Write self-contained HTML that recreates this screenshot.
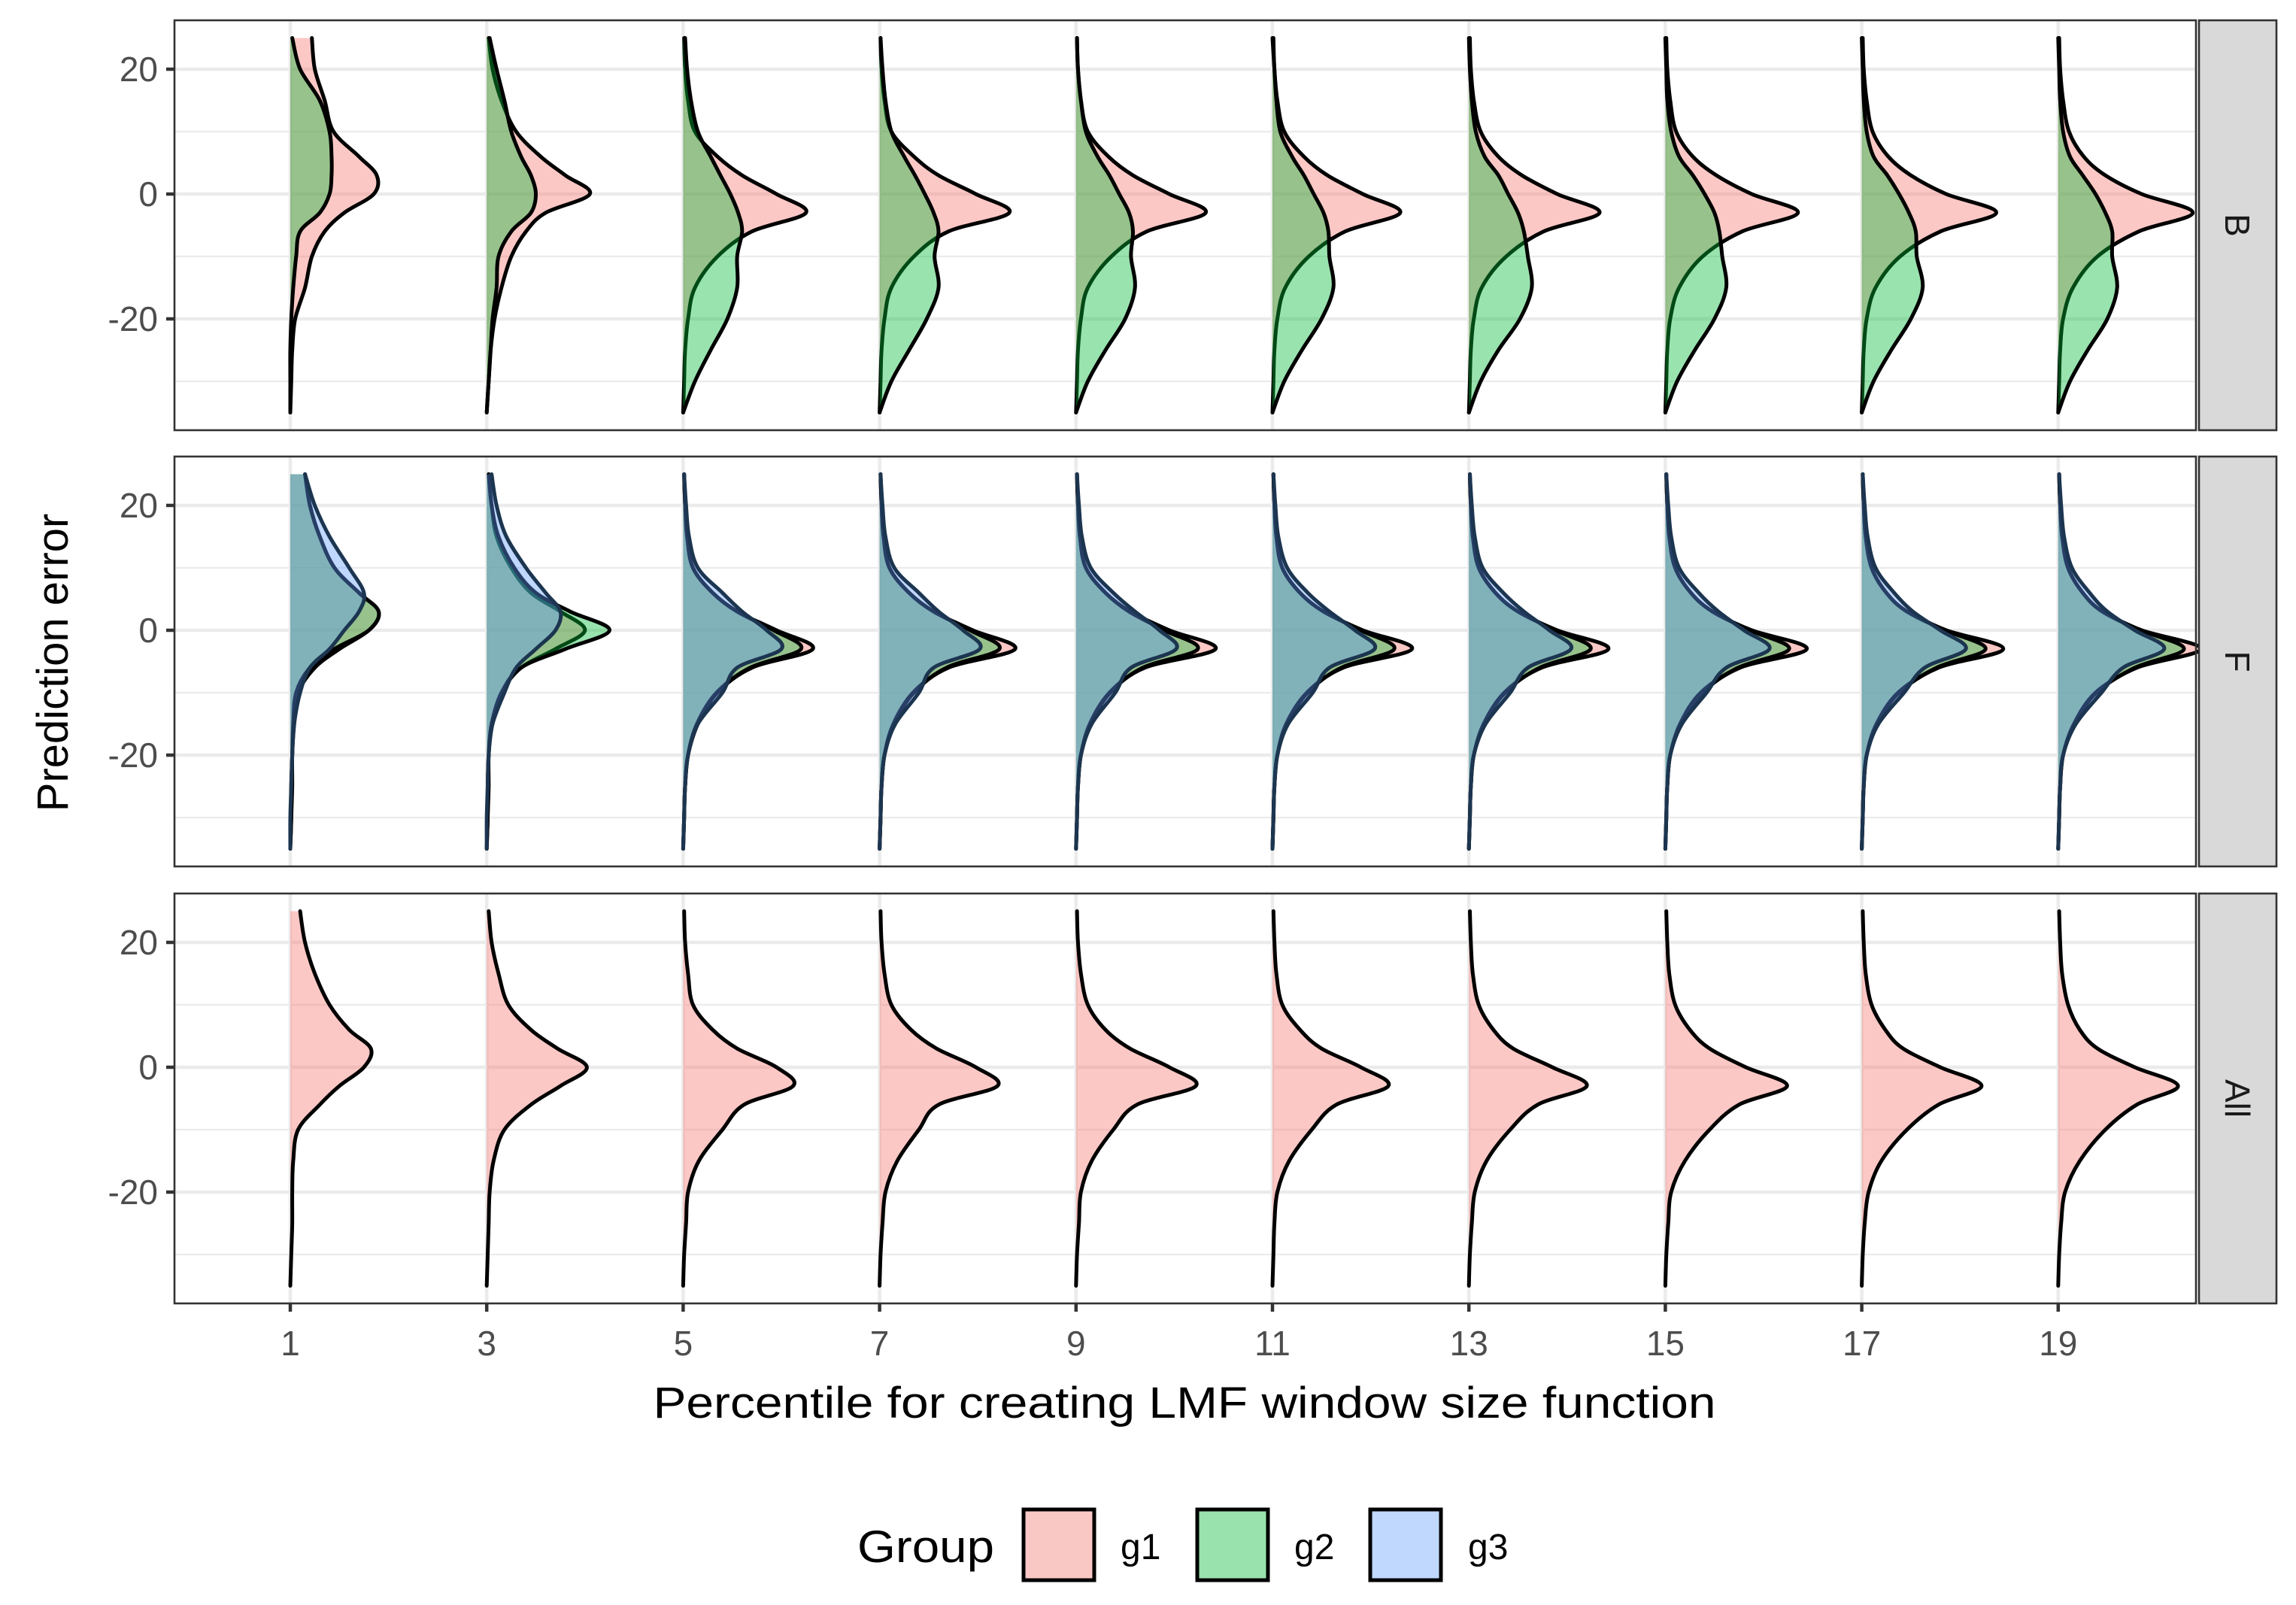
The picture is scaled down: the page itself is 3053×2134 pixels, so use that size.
<!DOCTYPE html>
<html><head><meta charset="utf-8"><style>
html,body{margin:0;padding:0;background:#fff;}
svg{display:block;}
text{font-family:"Liberation Sans",Arial,sans-serif;}
</style></head><body>
<svg id="chart" width="3053" height="2134" viewBox="0 0 3053 2134" xmlns="http://www.w3.org/2000/svg">
<g id="grid"></g>
<g id="marks"></g>
<g id="frames"></g>
<text x="90" y="881" font-size="58" fill="#000" text-anchor="middle" transform="rotate(-90 90 881)">Prediction error</text>
<text x="1575" y="1885" font-size="58" fill="#000" text-anchor="middle" textLength="1413" lengthAdjust="spacingAndGlyphs">Percentile for creating LMF window size function</text>
<g>
<text x="1140" y="2077" font-size="60" fill="#000" textLength="182" lengthAdjust="spacingAndGlyphs">Group</text>
<rect x="1361" y="2007" width="94" height="94" fill="#f9c8c4" stroke="#000" stroke-width="5"/>
<text x="1490" y="2073" font-size="48" fill="#000">g1</text>
<rect x="1592" y="2007" width="94" height="94" fill="#99e2ad" stroke="#000" stroke-width="5"/>
<text x="1721" y="2073" font-size="48" fill="#000">g2</text>
<rect x="1822" y="2007" width="94" height="94" fill="#c0d7fe" stroke="#000" stroke-width="5"/>
<text x="1952" y="2073" font-size="48" fill="#000">g3</text>
</g>
</svg>
<script>
const percentiles = [1,3,5,7,9,11,13,15,17,19];
const yLevels = [25,20,15,10,6,3,0,-3,-6,-10,-15,-20,-25,-30,-35];
const yTicks = [-20,0,20];
const yTickLabels = ["-20","0","20"];
const yMinor = [-30,-10,10];
const panelNames = ["B","F","All"];

const B_g1 = [
 [0.22,0.25,0.35,0.44,0.7,0.88,0.85,0.55,0.35,0.22,0.15,0.05,0.02,0.01,0],
 [0.02,0.06,0.15,0.3,0.55,0.8,1.05,0.6,0.4,0.25,0.15,0.08,0.04,0.02,0],
 [0.01,0.02,0.05,0.12,0.35,0.6,0.95,1.25,0.7,0.35,0.12,0.05,0.02,0.01,0],
 [0.01,0.02,0.05,0.12,0.35,0.6,0.98,1.32,0.7,0.35,0.12,0.05,0.02,0.01,0],
 [0.01,0.02,0.05,0.12,0.33,0.58,0.95,1.32,0.72,0.36,0.12,0.05,0.02,0.01,0],
 [0.01,0.02,0.05,0.12,0.32,0.56,0.92,1.3,0.74,0.37,0.13,0.05,0.02,0.01,0],
 [0.01,0.02,0.05,0.12,0.3,0.54,0.9,1.33,0.76,0.38,0.13,0.05,0.02,0.01,0],
 [0.01,0.02,0.05,0.11,0.28,0.52,0.88,1.35,0.78,0.38,0.14,0.05,0.02,0.01,0],
 [0.01,0.02,0.05,0.11,0.27,0.5,0.86,1.37,0.8,0.39,0.14,0.05,0.02,0.01,0],
 [0.01,0.02,0.05,0.11,0.26,0.48,0.85,1.37,0.82,0.4,0.15,0.05,0.02,0.01,0]
];
const B_g2 = [
 [0.02,0.1,0.3,0.4,0.42,0.42,0.4,0.3,0.1,0.06,0.03,0.01,0,0,0],
 [0.03,0.1,0.18,0.25,0.35,0.45,0.5,0.45,0.25,0.12,0.1,0.06,0.04,0.02,0],
 [0.02,0.04,0.08,0.15,0.28,0.38,0.48,0.56,0.6,0.55,0.55,0.45,0.28,0.12,0],
 [0.01,0.03,0.06,0.12,0.25,0.36,0.46,0.55,0.6,0.56,0.6,0.48,0.3,0.12,0],
 [0.01,0.02,0.05,0.1,0.22,0.34,0.44,0.54,0.58,0.56,0.6,0.5,0.3,0.12,0],
 [0,0.02,0.04,0.08,0.2,0.32,0.42,0.52,0.57,0.58,0.62,0.5,0.3,0.12,0],
 [0,0.01,0.03,0.07,0.16,0.3,0.4,0.5,0.56,0.6,0.64,0.52,0.3,0.12,0],
 [0,0.01,0.02,0.06,0.14,0.28,0.4,0.5,0.55,0.58,0.62,0.5,0.3,0.12,0],
 [0,0.01,0.02,0.05,0.12,0.26,0.38,0.48,0.55,0.56,0.62,0.5,0.3,0.12,0],
 [0,0.01,0.02,0.05,0.12,0.25,0.38,0.48,0.55,0.55,0.6,0.5,0.3,0.12,0]
];
const F_g1 = [
 [0.15,0.2,0.3,0.45,0.7,0.9,0.8,0.5,0.25,0.08,0.04,0.02,0.02,0.01,0],
 [0.02,0.05,0.1,0.25,0.45,0.75,1.0,0.7,0.35,0.15,0.05,0.02,0.02,0.01,0],
 [0.01,0.02,0.04,0.1,0.3,0.55,0.95,1.32,0.7,0.35,0.15,0.05,0.02,0.01,0],
 [0.01,0.02,0.04,0.1,0.3,0.55,0.95,1.38,0.7,0.35,0.15,0.05,0.02,0.01,0],
 [0.01,0.02,0.04,0.1,0.3,0.55,0.95,1.42,0.7,0.35,0.15,0.05,0.02,0.01,0],
 [0.01,0.02,0.04,0.1,0.28,0.52,0.92,1.42,0.72,0.36,0.15,0.05,0.02,0.01,0],
 [0.01,0.02,0.04,0.1,0.27,0.5,0.9,1.42,0.74,0.37,0.16,0.05,0.02,0.01,0],
 [0.01,0.02,0.04,0.1,0.26,0.48,0.88,1.44,0.76,0.38,0.16,0.05,0.02,0.01,0],
 [0.01,0.02,0.04,0.1,0.25,0.46,0.86,1.44,0.78,0.38,0.16,0.05,0.02,0.01,0],
 [0.01,0.02,0.04,0.1,0.25,0.45,0.85,1.45,0.8,0.39,0.17,0.05,0.02,0.01,0]
];
const F_g2 = [
 [0.15,0.2,0.3,0.45,0.7,0.9,0.8,0.45,0.2,0.06,0.03,0.02,0.01,0.01,0],
 [0.02,0.05,0.12,0.28,0.5,0.85,1.25,0.8,0.35,0.15,0.05,0.02,0.01,0.01,0],
 [0.01,0.02,0.04,0.1,0.3,0.55,0.92,1.2,0.68,0.34,0.14,0.05,0.02,0.01,0],
 [0.01,0.02,0.04,0.1,0.3,0.55,0.92,1.22,0.68,0.34,0.14,0.05,0.02,0.01,0],
 [0.01,0.02,0.04,0.1,0.3,0.54,0.9,1.24,0.68,0.34,0.14,0.05,0.02,0.01,0],
 [0.01,0.02,0.04,0.1,0.28,0.52,0.9,1.24,0.7,0.35,0.14,0.05,0.02,0.01,0],
 [0.01,0.02,0.04,0.1,0.27,0.5,0.88,1.24,0.72,0.36,0.15,0.05,0.02,0.01,0],
 [0.01,0.02,0.04,0.1,0.26,0.48,0.86,1.26,0.74,0.36,0.15,0.05,0.02,0.01,0],
 [0.01,0.02,0.04,0.1,0.25,0.46,0.85,1.26,0.76,0.37,0.15,0.05,0.02,0.01,0],
 [0.01,0.02,0.04,0.1,0.25,0.45,0.84,1.28,0.78,0.38,0.16,0.05,0.02,0.01,0]
];
const F_g3 = [
 [0.15,0.25,0.4,0.6,0.75,0.7,0.55,0.4,0.2,0.1,0.04,0.02,0.01,0,0],
 [0.05,0.1,0.2,0.4,0.6,0.75,0.7,0.5,0.3,0.18,0.06,0.02,0.01,0,0],
 [0.01,0.03,0.06,0.15,0.4,0.6,0.85,1.0,0.55,0.4,0.15,0.05,0.02,0.01,0],
 [0.01,0.03,0.06,0.15,0.4,0.6,0.85,1.02,0.55,0.4,0.16,0.05,0.02,0.01,0],
 [0.01,0.03,0.06,0.15,0.38,0.6,0.85,1.02,0.56,0.4,0.16,0.05,0.02,0.01,0],
 [0.01,0.03,0.06,0.15,0.36,0.58,0.84,1.04,0.58,0.41,0.16,0.05,0.02,0.01,0],
 [0.01,0.03,0.06,0.14,0.35,0.56,0.82,1.04,0.6,0.42,0.17,0.05,0.02,0.01,0],
 [0.01,0.03,0.06,0.14,0.34,0.54,0.8,1.06,0.62,0.42,0.17,0.05,0.02,0.01,0],
 [0.01,0.03,0.06,0.14,0.33,0.52,0.8,1.06,0.64,0.43,0.17,0.05,0.02,0.01,0],
 [0.01,0.03,0.06,0.14,0.32,0.5,0.78,1.08,0.66,0.44,0.18,0.05,0.02,0.01,0]
];
const All_g1 = [
 [0.1,0.15,0.25,0.4,0.6,0.82,0.75,0.5,0.3,0.08,0.03,0.02,0.02,0.01,0],
 [0.02,0.05,0.12,0.22,0.45,0.72,1.02,0.75,0.45,0.18,0.07,0.03,0.02,0.01,0],
 [0.01,0.02,0.05,0.1,0.3,0.55,0.95,1.12,0.62,0.4,0.16,0.05,0.03,0.01,0],
 [0.01,0.02,0.05,0.12,0.32,0.58,0.98,1.2,0.6,0.4,0.18,0.06,0.03,0.01,0],
 [0.01,0.02,0.05,0.12,0.3,0.55,0.95,1.22,0.62,0.38,0.16,0.05,0.03,0.01,0],
 [0.01,0.02,0.04,0.1,0.28,0.5,0.9,1.18,0.65,0.4,0.17,0.05,0.02,0.01,0],
 [0.01,0.02,0.04,0.1,0.25,0.45,0.85,1.2,0.7,0.42,0.18,0.06,0.03,0.01,0],
 [0.01,0.02,0.04,0.1,0.25,0.45,0.82,1.24,0.75,0.45,0.2,0.06,0.03,0.01,0],
 [0.01,0.02,0.04,0.1,0.24,0.42,0.8,1.22,0.78,0.46,0.2,0.07,0.03,0.01,0],
 [0.01,0.02,0.04,0.1,0.22,0.4,0.78,1.22,0.8,0.48,0.22,0.07,0.03,0.01,0]
];

const NS = "http://www.w3.org/2000/svg";
const svg = document.getElementById('chart');
const gGrid = document.getElementById('grid');
const gMarks = document.getElementById('marks');
const gFrames = document.getElementById('frames');
const PL = 232, PR = 2920, PH = 545;
const panelTops = [27, 607, 1188];
const xScale = v => 386 + (v - 1) * 130.6;
const wScale = w => w * 130.6;
const yScale = (v, top) => top + 231 + (0 - v) * 8.3;
function mk(tag, attrs, parent) {
  const e = document.createElementNS(NS, tag);
  for (const k in attrs) e.setAttribute(k, attrs[k]);
  parent.appendChild(e);
  return e;
}
function catmull(pts) {
  let d = "";
  for (let i = 0; i < pts.length - 1; i++) {
    const p0 = pts[Math.max(0, i - 1)], p1 = pts[i], p2 = pts[i + 1], p3 = pts[Math.min(pts.length - 1, i + 2)];
    const c1x = p1[0] + (p2[0] - p0[0]) / 6, c1y = p1[1] + (p2[1] - p0[1]) / 6;
    const c2x = p2[0] - (p3[0] - p1[0]) / 6, c2y = p2[1] - (p3[1] - p1[1]) / 6;
    d += ` C${c1x.toFixed(1)},${c1y.toFixed(1)} ${c2x.toFixed(1)},${c2y.toFixed(1)} ${p2[0].toFixed(1)},${p2[1].toFixed(1)}`;
  }
  return d;
}
const panelSeries = [
  [{data: B_g1, fill: "rgba(248,118,109,0.4)", stroke: "#000", name: "g1"}, {data: B_g2, fill: "rgba(0,186,56,0.4)", stroke: "#000", name: "g2"}],
  [{data: F_g1, fill: "rgba(248,118,109,0.4)", stroke: "#000", name: "g1"}, {data: F_g2, fill: "rgba(0,186,56,0.4)", stroke: "#000", name: "g2"}, {data: F_g3, fill: "rgba(97,156,255,0.4)", stroke: "#1c3550", name: "g3"}],
  [{data: All_g1, fill: "rgba(248,118,109,0.4)", stroke: "#000", name: "g1"}]
];

panelTops.forEach((top, pi) => {
  // background grid
  yMinor.forEach(v => {
    const l = mk('line', {x1: PL, x2: PR, y1: yScale(v, top), y2: yScale(v, top), stroke: '#ebebeb', 'stroke-width': 2.3}, gGrid);
    
    
  });
  yTicks.forEach(v => {
    const l = mk('line', {x1: PL, x2: PR, y1: yScale(v, top), y2: yScale(v, top), stroke: '#ebebeb', 'stroke-width': 4.5}, gGrid);
    
    
  });
  percentiles.forEach(p => {
    const l = mk('line', {x1: xScale(p), x2: xScale(p), y1: top, y2: top + PH, stroke: '#ebebeb', 'stroke-width': 4.5}, gGrid);
    
    
  });
  // marks
  panelSeries[pi].forEach(s => {
    percentiles.forEach((p, k) => {
      const w = s.data[k];
      const base = xScale(p);
      const pts = yLevels.map((yv, i) => [base + wScale(w[i]), yScale(yv, top)]);
      const curve = `M${pts[0][0].toFixed(1)},${pts[0][1].toFixed(1)}` + catmull(pts);
      const fill = mk('path', {d: `M${base},${pts[0][1]} L` + curve.slice(1) + ` L${base},${pts[pts.length-1][1]} Z`, fill: s.fill, stroke: 'none'}, gMarks);
      
      
      const line = mk('path', {d: curve, fill: 'none', stroke: s.stroke, 'stroke-width': 5, 'stroke-linejoin': 'round', 'stroke-linecap': 'round'}, gMarks);
      
      
    });
  });
  // frame
  const fr = mk('rect', {x: PL, y: top, width: PR - PL, height: PH, fill: 'none', stroke: '#333', 'stroke-width': 2.6}, gFrames);
  
  
  const st = mk('rect', {x: 2924, y: top, width: 103, height: PH, fill: '#d9d9d9', stroke: '#333', 'stroke-width': 2.6}, gFrames);
  
  
  const cy = top + PH / 2;
  const stt = mk('text', {x: 2975, y: cy, 'font-size': 46, fill: '#1a1a1a', 'text-anchor': 'middle', 'dominant-baseline': 'central', transform: `rotate(90 2975 ${cy})`}, gFrames);
  stt.textContent = panelNames[pi];
  
  
  yTicks.forEach((v, i) => {
    const y = yScale(v, top);
    const t = mk('line', {x1: PL - 11, x2: PL, y1: y, y2: y, stroke: '#333', 'stroke-width': 4.5}, gFrames);
    
    
    const lb = mk('text', {x: PL - 22, y: y + 16, 'font-size': 46, fill: '#4d4d4d', 'text-anchor': 'end'}, gFrames);
    lb.textContent = yTickLabels[i];
    
    
  });
});
const bottom = panelTops[2] + PH;
percentiles.forEach(p => {
  const x = xScale(p);
  const t = mk('line', {x1: x, x2: x, y1: bottom, y2: bottom + 11, stroke: '#333', 'stroke-width': 4.5}, gFrames);
  
  
  const lb = mk('text', {x: x, y: bottom + 69, 'font-size': 46, fill: '#4d4d4d', 'text-anchor': 'middle'}, gFrames);
  lb.textContent = String(p);
  
  
});
</script>
</body></html>
